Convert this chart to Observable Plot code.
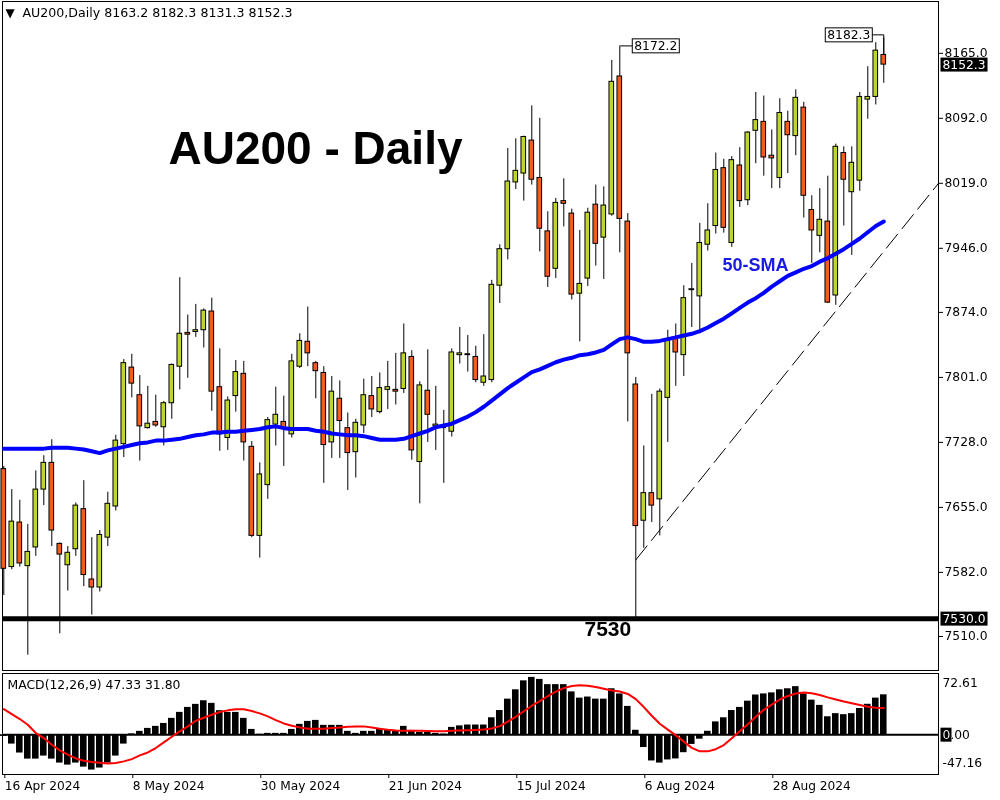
<!DOCTYPE html>
<html><head><meta charset="utf-8">
<script src="https://cdn.jsdelivr.net/npm/d3@7"></script>
<script src="https://cdn.jsdelivr.net/npm/@observablehq/plot@0.6"></script>
<style>
html,body{margin:0;padding:0;background:#fff;}
#chart{position:relative;width:1000px;height:800px;overflow:hidden;background:#fff;}
#chart svg{display:block;}
</style></head><body><div id="chart"></div>
<script>
// ---- data ----
const symbol = "AU200", timeframe = "Daily";
const opens  = [7698,7588,7638,7589,7610,7675,7705,7614,7590,7608,7653,7574,7565,7621,7656,7726,7812,7781,7744,7751,7745,7772,7813,7851,7852,7854,7875,7790,7733,7780,7805,7723,7623,7680,7748,7751,7737,7813,7841,7817,7806,7728,7777,7744,7717,7747,7780,7762,7787,7787,7788,7824,7706,7786,7746,7744,7740,7826,7826,7824,7795,7798,7904,7945,8020,8030,8067,8025,7965,7923,7999,7985,7895,7912,7995,7958,7984,8139,7976,7793,7640,7671,7664,7778,7845,7826,7899,7892,7950,7971,8036,7952,8039,8000,8078,8088,8050,8025,8088,8072,8104,7989,7960,7976,7893,8053,8009,8022,8113,8116,8163.2];
const highs  = [7701,7675,7663,7636,7696,7713,7731,7615,7611,7660,7685,7621,7629,7672,7736,7821,7827,7803,7791,7781,7774,7816,7913,7871,7883,7878,7890,7833,7779,7820,7819,7729,7705,7756,7790,7780,7827,7850,7880,7819,7813,7802,7797,7761,7754,7799,7802,7806,7819,7828,7861,7831,7796,7832,7791,7764,7833,7857,7848,7836,7849,7910,7950,8058,8069,8072,8106,8092,7987,8002,8024,7990,7966,7991,8017,8015,8157,8172.2,7985,7801,7724,7782,7788,7854,7861,7904,7929,7974,7996,8053,8046,8049,8059,8077,8121,8117,8079,8114,8100,8124,8110,8005,8013,8027,8063,8060,8060,8121,8150,8177,8182.3];
const lows   = [7556,7585,7588,7489,7600,7657,7611,7513,7561,7600,7566,7534,7560,7611,7651,7711,7778,7707,7743,7745,7724,7754,7787,7800,7846,7834,7763,7718,7719,7762,7707,7621,7598,7664,7724,7701,7733,7811,7813,7777,7682,7710,7710,7674,7688,7738,7756,7760,7765,7770,7783,7708,7659,7728,7719,7682,7734,7816,7807,7795,7791,7795,7884,7933,8012,7999,8017,7942,7902,7912,7970,7888,7841,7903,7926,7911,7982,7941,7751,7530,7609,7638,7623,7728,7791,7802,7857,7850,7943,7962,7963,7947,7992,7994,8041,8027,8013,8013,8030,8050,7980,7929,7941,7884,7882,7971,7938,8010,8091,8107,8131.3];
const closes = [7586,7639,7592,7605,7675,7705,7629,7602,7604,7657,7579,7565,7624,7659,7730,7817,7794,7746,7749,7747,7772,7815,7850,7849,7854,7876,7785,7737,7775,7807,7728,7623,7692,7753,7759,7743,7819,7842,7828,7808,7725,7785,7752,7716,7750,7781,7765,7789,7790,7785,7828,7719,7792,7759,7748,7745,7829,7828,7827,7798,7802,7905,7945,8021,8033,8071,8023,7968,7914,7997,7996,7894,7906,7986,7951,7994,8133,7979,7828,7634,7671,7657,7785,7842,7829,7890,7900,7952,7966,8034,7969,8045,7999,8076,8090,8048,8047,8098,8073,8115,8005,7966,7978,7885,8060,8023,8042,8116,8116,8168,8152.3];
const sma50  = [7721,7721,7721,7721,7721,7721,7722,7722,7722,7721,7720,7718,7716,7719,7721,7723,7725,7727,7728,7730,7730,7731,7732,7734,7736,7737,7739,7739,7740,7740,7741,7742,7743,7745,7746,7744,7743,7743,7743,7741,7740,7738,7737,7736,7736,7735,7733,7731,7731,7731,7732,7735,7738,7741,7745,7747,7749,7753,7757,7762,7768,7775,7782,7789,7795,7801,7807,7810,7814,7818,7821,7823,7826,7827,7829,7832,7838,7844,7846,7844,7841,7841,7842,7844,7846,7848,7850,7853,7857,7862,7867,7873,7879,7885,7890,7896,7903,7909,7915,7919,7923,7926,7931,7935,7940,7945,7951,7957,7964,7971,7976];
const macdMain = [-2,-11.1,-21.7,-28.9,-28.9,-25.3,-28.9,-33.6,-36,-33.6,-38.4,-41.9,-39.5,-33.6,-25.3,-11.1,1,4,7.5,9.9,13.4,19.4,26.5,32.4,36,40.3,37.2,28.5,26.5,26.5,19.4,6.3,0.5,1.6,1.6,1.6,6.3,12.3,15.8,17,11.1,11.1,11.1,4,1.6,4,4,6.3,5.1,4,9.9,5.1,2.8,2.8,1.6,0.8,8.7,10.5,11.5,11.5,11.5,20.1,28.7,42.2,53.3,63.9,68,65.6,59.4,59.4,59.4,50.8,43.4,44.7,42.2,42.2,54.5,48.4,33.6,5.3,-15.2,-31.1,-33.6,-29.9,-28.7,-21.3,-11.5,-5.3,4.1,15.2,20.1,28.7,32.4,39.8,47.1,48.4,49.6,53.3,54.5,57,48.4,41,34.8,21.3,25,23.8,25,31.1,36.1,43.4,47.33];
const macdSignal = [30.4,24.5,18.6,11.9,2,-4,-11.9,-18.6,-23.7,-28.1,-30.8,-32.4,-33.2,-34,-33.6,-31.6,-28.9,-24.5,-21,-15.8,-9.1,-2.4,4,9.9,16.6,20.2,23.7,26.9,28.9,30.1,30.1,28.1,25.3,21.7,17.4,13.4,10.7,8.7,7.1,7.1,7.1,7.9,8.7,9.5,9.9,9.9,8.7,7.1,5.9,5.1,4.7,4.7,4.7,4.3,4,4,4.7,5.1,5.4,5.7,6.1,7.4,10.2,15.6,21.3,27.9,34.4,39.8,45.9,51.2,55.3,57.8,58.6,58.2,56.6,54.5,52.5,51.2,48.4,42.2,32.8,22.5,13.1,6.1,-0.8,-8.2,-15.6,-19.7,-19.7,-17.2,-12.3,-4.1,4.1,12.3,21.3,29.5,35.7,41.8,45.9,48.8,50,49.2,47.1,44.3,41.8,39.3,37.3,35.2,33.2,32,31.8];
const macdScaleLabels = [72.61, 0, -47.16];
const priceTicks = [8165,8092,8019,7946,7874,7801,7728,7655,7582,7510];
const dateTickIdx = [0,16,32,48,64,80,96];
const dateTickLabels = ["16 Apr 2024","8 May 2024","30 May 2024","21 Jun 2024","15 Jul 2024","6 Aug 2024","28 Aug 2024"];
const supportLevel = 7530;
const trendIdx = [79, 116.84];
const trendVal = [7596, 8019];
const calloutIdx = [77, 110];

// ---- derived tables ----
const bars = opens.map((o, i) => ({i, open: o, high: highs[i], low: lows[i], close: closes[i]}));
const smaData = sma50.map((v, i) => ({i, v}));
const histData = macdMain.map((v, i) => ({i, v}));
const sigData = macdSignal.map((v, i) => ({i, v}));
const trend = trendIdx.map((x, k) => ({x, y: trendVal[k]}));
const last = bars[bars.length - 1];
const callouts = calloutIdx.map(i => ({i, v: highs[i]}));

const FONT = "DejaVu Sans, Verdana, sans-serif";
const BULL = "#bfd42d", BEAR = "#f15c22";
const xDomain = [-0.1625, 116.84];

const main = Plot.plot({
  width: 1000, height: 672,
  marginLeft: 2, marginRight: 62, marginTop: 1, marginBottom: 2,
  style: {fontFamily: FONT, fontSize: "12px", color: "black", background: "white"},
  x: {domain: xDomain, axis: null, label: null},
  y: {domain: [7471.8, 8223.2], label: null},
  marks: [
    Plot.frame({stroke: "black"}),
    Plot.axisY(priceTicks, {anchor: "right", tickSize: 4, tickPadding: 2, tickFormat: d => d.toFixed(1), fontSize: 12.3, label: null}),
    Plot.line(trend, {x: "x", y: "y", stroke: "black", strokeWidth: 1, strokeDasharray: "18,7"}),
    Plot.ruleX(bars, {x: "i", y1: "low", y2: "high", stroke: "black", strokeWidth: 1}),
    Plot.rect(bars, {x1: d => d.i - 0.29, x2: d => d.i + 0.29, y1: "open", y2: "close",
      fill: d => d.close >= d.open ? BULL : BEAR, stroke: "black", strokeWidth: 1}),
    Plot.ruleY([supportLevel], {stroke: "black", strokeWidth: 5}),
    Plot.line(smaData, {x: "i", y: "v", stroke: "#0000ff", strokeWidth: 4}),
    Plot.text([`${symbol},${timeframe} ${[last.open, last.high, last.low, last.close].map(v => v.toFixed(1)).join(" ")}`],
      {frameAnchor: "top-left", dx: 20, dy: 7, lineAnchor: "top", textAnchor: "start", fontSize: 12.6, fill: "black"}),
    Plot.text(["▼"], {frameAnchor: "top-left", dx: 3, dy: 7, lineAnchor: "top", textAnchor: "start", fontSize: 12, fill: "black"}),
    Plot.text([`${symbol} - ${timeframe}`], {frameAnchor: "top-left", dx: 166, dy: 130, lineAnchor: "top", textAnchor: "start",
      fontSize: 46, fontWeight: "bold", fontFamily: "Liberation Sans, Arial, sans-serif", fill: "black"}),
    Plot.text(["50-SMA"], {frameAnchor: "top-left", dx: 720, dy: 257, lineAnchor: "top", textAnchor: "start",
      fontSize: 18, fontWeight: "bold", fontFamily: "Liberation Sans, Arial, sans-serif", fill: "#1a1ae6"}),
    Plot.text([supportLevel], {y: d => d, text: d => String(d), frameAnchor: "left", dx: 582, dy: 11, textAnchor: "start",
      fontSize: 21, fontWeight: "bold", fontFamily: "Liberation Sans, Arial, sans-serif", fill: "black"}),
    Plot.text(callouts.slice(0, 1), {x: "i", y: "v", text: d => d.v.toFixed(1), dx: 36, dy: -1, fontSize: 12.3, fill: "black", className: "callout-a"}),
    Plot.text(callouts.slice(1), {x: "i", y: "v", text: d => d.v.toFixed(1), dx: -35, dy: -3, fontSize: 12.3, fill: "black", className: "callout-b"}),
    Plot.text([last.close, supportLevel], {y: d => d, text: d => d.toFixed(1), frameAnchor: "right", dx: 4, textAnchor: "start",
      fontSize: 12.3, fill: "white", className: "pricebox"})
  ]
});

const macd = Plot.plot({
  width: 1000, height: 128,
  marginLeft: 2, marginRight: 62, marginTop: 1, marginBottom: 26,
  style: {fontFamily: FONT, fontSize: "12px", color: "black", background: "white"},
  x: {domain: xDomain, label: null},
  y: {domain: [macdScaleLabels[2], macdScaleLabels[0]], axis: null, label: null},
  marks: [
    Plot.frame({stroke: "black"}),
    Plot.rect(histData, {x1: d => d.i - 0.41, x2: d => d.i + 0.41, y1: 0, y2: "v", fill: "black"}),
    Plot.ruleY([0], {stroke: "black", strokeWidth: 2}),
    Plot.line(sigData, {x: "i", y: "v", stroke: "#ff0000", strokeWidth: 2}),
    Plot.axisX(dateTickIdx, {anchor: "bottom", tickSize: 4, tickPadding: 3, textAnchor: "start", dx: 1, label: null,
      tickFormat: d => dateTickLabels[dateTickIdx.indexOf(d)], fontSize: 12.2}),
    Plot.text([`MACD(12,26,9) ${macdMain[macdMain.length - 1].toFixed(2)} ${macdSignal[macdSignal.length - 1].toFixed(2)}`],
      {frameAnchor: "top-left", dx: 5, dy: 7, lineAnchor: "top", textAnchor: "start", fontSize: 12.4, fill: "black"}),
    Plot.text([macdScaleLabels[0]], {y: d => d, text: d => d.toFixed(2), frameAnchor: "right", dx: 4, dy: 10, textAnchor: "start", fontSize: 12.3, fill: "black"}),
    Plot.text([macdScaleLabels[2]], {y: d => d, text: d => d.toFixed(2), frameAnchor: "right", dx: 4, dy: -11, textAnchor: "start", fontSize: 12.3, fill: "black"}),
    Plot.text([macdScaleLabels[1]], {y: d => d, text: d => d.toFixed(2), frameAnchor: "right", dx: 4, textAnchor: "start", fontSize: 12.3, fill: "black", className: "zerobox"})
  ]
});

const chart = document.getElementById("chart");
chart.appendChild(main);
chart.appendChild(macd);

const NS = "http://www.w3.org/2000/svg";
function boxTexts(svg, cls, fill, stroke, padX, padY, opts = {}) {
  const out = [];
  svg.querySelectorAll(`.${cls} text`).forEach(t => {
    const b = t.getBBox();
    const r = document.createElementNS(NS, "rect");
    r.setAttribute("x", b.x - padX);
    r.setAttribute("y", b.y - padY);
    r.setAttribute("width", opts.width != null ? opts.width : b.width + 2 * padX);
    r.setAttribute("height", b.height + 2 * padY);
    r.setAttribute("fill", fill);
    r.setAttribute("stroke", stroke || "none");
    if (opts.blend) r.setAttribute("style", `mix-blend-mode:${opts.blend}`);
    if (t.getAttribute("transform")) r.setAttribute("transform", t.getAttribute("transform"));
    if (opts.above) t.parentNode.insertBefore(r, t.nextSibling);
    else t.parentNode.insertBefore(r, t);
    out.push(r);
  });
  return out;
}
boxTexts(main, "pricebox", "black", null, 2, 0);
const ca = boxTexts(main, "callout-a", "white", "black", 2, 0);
const cb = boxTexts(main, "callout-b", "white", "black", 2, 0);
// narrow inverted box behind the first digit of the zero label
boxTexts(macd, "zerobox", "white", null, 2, 0, {width: 11, blend: "difference", above: true});

// connectors from callout boxes to the candles
const sx = main.scale("x"), sy = main.scale("y");
const svgBox = main.getBoundingClientRect();
function addPath(d) {
  const p = document.createElementNS(NS, "path");
  p.setAttribute("d", d); p.setAttribute("stroke", "black"); p.setAttribute("fill", "none"); p.setAttribute("stroke-width", "1");
  main.appendChild(p);
}
if (ca[0]) {
  const rb = ca[0].getBoundingClientRect();
  const x0 = sx.apply(calloutIdx[0]), y0 = sy.apply(highs[calloutIdx[0]]);
  addPath(`M${x0},${y0 - 0.5}H${rb.left - svgBox.left}`);
}
if (cb[0]) {
  const rb = cb[0].getBoundingClientRect();
  const x1 = sx.apply(calloutIdx[1]) + 0.5, y1 = sy.apply(opens[calloutIdx[1]]);
  const my = (rb.top + rb.bottom) / 2 - svgBox.top;
  addPath(`M${rb.right - svgBox.left},${my}H${x1}V${y1}`);
}
</script></body></html>
